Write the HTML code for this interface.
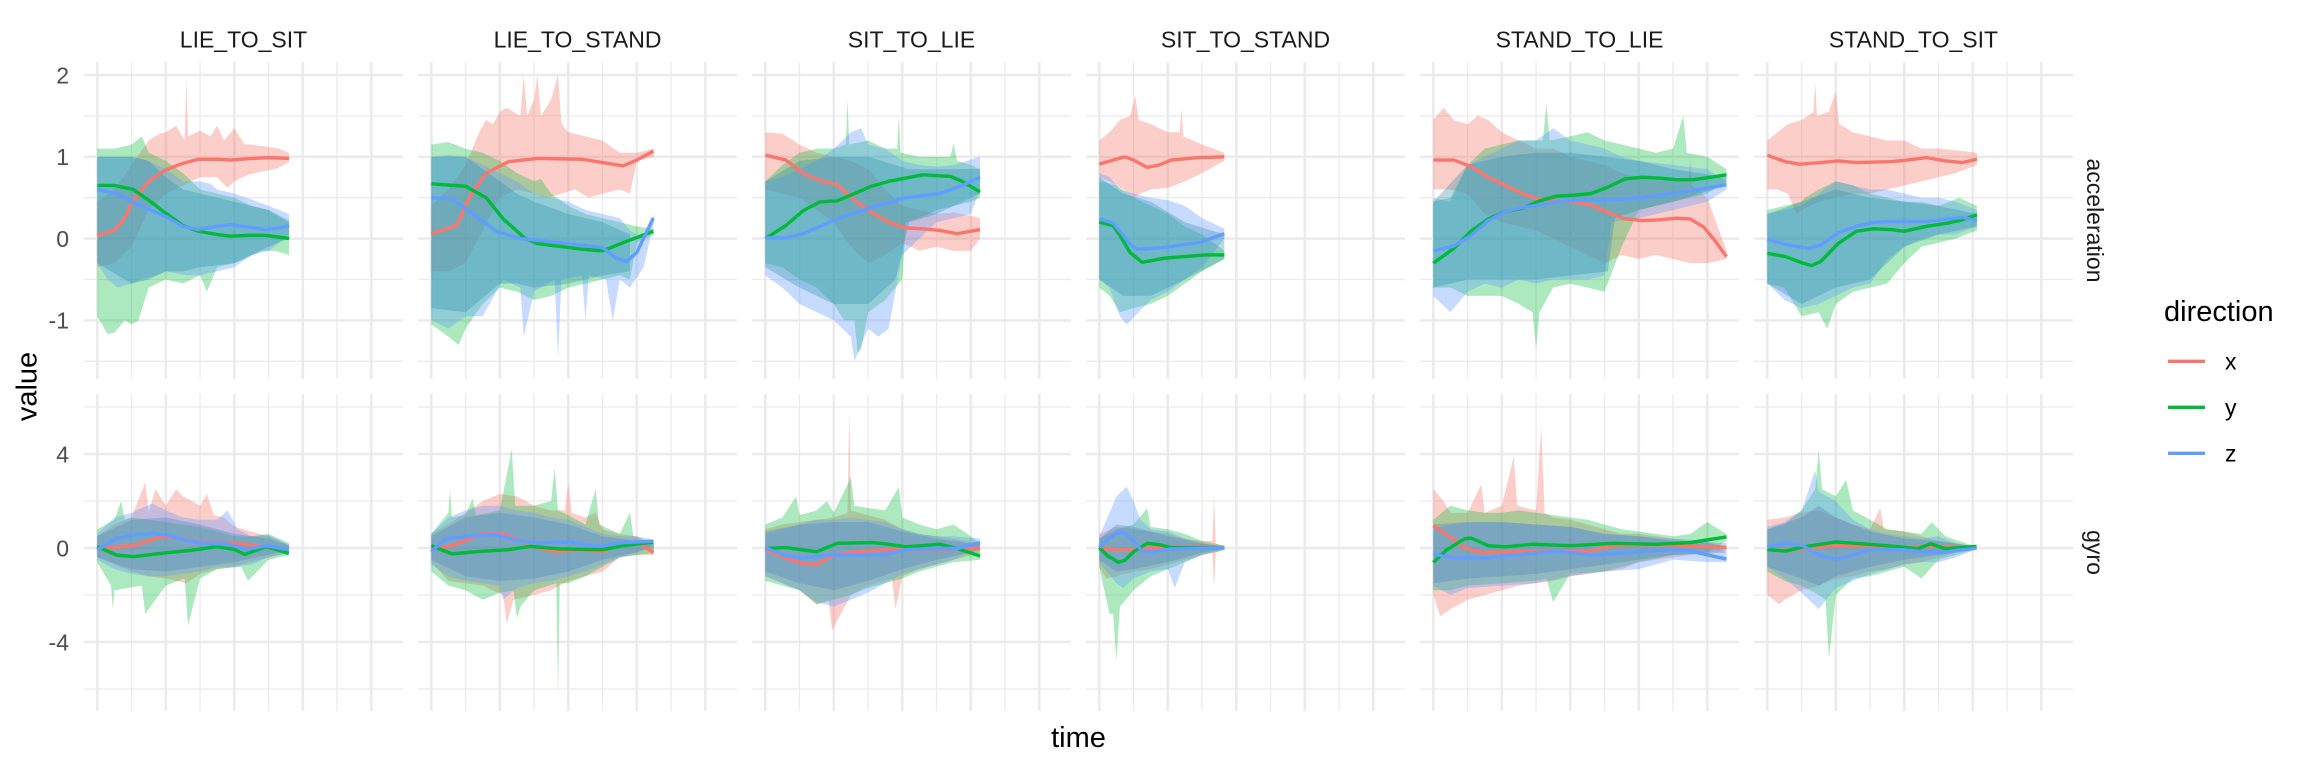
<!DOCTYPE html>
<html><head><meta charset="utf-8"><style>
html,body{margin:0;padding:0;background:#fff;}
svg{display:block;font-family:"Liberation Sans",Arial,sans-serif;}
.mj{stroke:#ebebeb;stroke-width:2.6;fill:none}
.mn{stroke:#ebebeb;stroke-width:1.3;fill:none}
.r{fill:#F8766D;opacity:.36}
.g{fill:#00BA38;opacity:.32}
.b{fill:#619CFF;opacity:.36}
.c{fill:#2f8fae;opacity:.34}
.cg{fill:#4f7fc0;opacity:.32}
.lr,.lg,.lb{fill:none;stroke-width:3.4;stroke-linejoin:round;stroke-linecap:butt;vector-effect:non-scaling-stroke}
.lr{stroke:#F8766D}.lg{stroke:#00BA38}.lb{stroke:#619CFF}
.tk{font-size:23px;fill:#4d4d4d;text-anchor:end}
.st{font-size:23px;fill:#1a1a1a;text-anchor:middle}
</style></head><body>
<svg width="2304" height="768" viewBox="0 0 2304 768" xmlns="http://www.w3.org/2000/svg">
<rect width="2304" height="768" fill="#fff"/>
<defs>
<g id="grid">
<path class="mn" d="M84 115.9H403M84 197.7H403M84 279.5H403M84 361.3H403M131.55 62V379M200.05 62V379M268.55 62V379M337.05 62V379"/>
<path class="mj" d="M84 75H403M84 156.8H403M84 238.6H403M84 320.4H403M97.3 62V379M165.8 62V379M234.3 62V379M302.8 62V379M371.3 62V379"/>
<path class="mn" d="M84 407H403M84 501H403M84 595H403M84 689H403M131.55 394V711M200.05 394V711M268.55 394V711M337.05 394V711"/>
<path class="mj" d="M84 454H403M84 548H403M84 642H403M97.3 394V711M165.8 394V711M234.3 394V711M302.8 394V711M371.3 394V711"/>
</g>
</defs>
<use href="#grid"/>
<use href="#grid" x="334"/>
<use href="#grid" x="668"/>
<use href="#grid" x="1002"/>
<use href="#grid" x="1336"/>
<use href="#grid" x="1670"/>

<!-- ACC P1 -->
<g transform="matrix(34.25 0 0 -81.8 97.3 238.6)">
<polygon class="r" points="0,0.45 0.5,0.6 1,0.9 1.5,1.2 1.8,1.28 2,1.3 2.3,1.38 2.55,1.2 2.6,1.95 2.65,1.25 3,1.32 3.3,1.25 3.5,1.38 3.7,1.2 4,1.35 4.3,1.15 4.5,1.15 5,1.12 5.3,1.1 5.6,1.05 5.6,0.93 5.2,0.85 4.8,0.82 4.4,0.78 4,0.7 3.8,0.62 3.5,0.75 3,0.75 2.5,0.65 2,0.55 1.5,0.35 1,-0.1 0.5,-0.3 0,-0.35"/>
<polygon class="g" points="0,1.1 0.5,1.1 1,1.15 1.3,1.25 1.5,1.05 2,0.95 2.5,0.8 3,0.6 3.5,0.55 4,0.5 4.5,0.4 5,0.35 5.6,0.22 5.6,-0.2 5.2,-0.15 4.8,-0.15 4.3,-0.25 4,-0.3 3.5,-0.35 3.2,-0.65 3,-0.45 2.5,-0.55 2,-0.5 1.5,-0.6 1.2,-1.0 1,-1.05 0.8,-1.0 0.5,-1.15 0.3,-1.17 0,-0.95"/>
<polygon class="b" points="0,1.0 0.5,1.0 1,1.0 1.5,0.95 2,0.85 2.5,0.7 3,0.7 3.3,0.67 3.5,0.6 4,0.55 4.5,0.48 5,0.4 5.6,0.3 5.6,0.05 5.3,-0.05 5,-0.15 4.5,-0.2 4,-0.35 3.5,-0.4 3,-0.45 2.6,-0.45 2,-0.4 1.7,-0.45 1.3,-0.5 1,-0.55 0.6,-0.6 0.3,-0.5 0,-0.3"/>
<polygon class="c" points="0,1.0 1,1.0 1.5,0.95 2,0.75 2.5,0.6 3,0.55 4,0.45 5,0.35 5.6,0.2 5.6,0 5,-0.1 4,-0.3 3,-0.35 2.5,-0.4 2,-0.4 1.5,-0.5 1,-0.55 0,-0.3"/>
<polyline class="lr" points="0,0.04 0.5,0.1 0.8,0.25 1.05,0.47 1.5,0.7 2,0.84 2.5,0.92 2.95,0.97 3.5,0.97 3.9,0.96 4.5,0.98 5,0.99 5.6,0.98"/>
<polyline class="lg" points="0,0.65 0.5,0.65 1.05,0.6 1.5,0.47 2,0.31 2.5,0.16 2.95,0.09 3.5,0.05 3.9,0.03 4.4,0.04 4.9,0.04 5.6,0.0"/>
<polyline class="lb" points="0,0.6 0.58,0.55 1,0.45 1.5,0.36 2,0.27 2.5,0.15 2.95,0.11 3.5,0.15 3.9,0.17 4.4,0.14 4.9,0.11 5.3,0.13 5.6,0.16"/>
</g>

<!-- ACC P2 -->
<g transform="matrix(34.25 0 0 -81.8 431.3 238.6)">
<polygon class="r" points="0,0.4 0.5,0.6 1,0.9 1.4,1.3 1.6,1.45 1.8,1.4 2,1.55 2.2,1.6 2.6,1.5 2.7,2.0 2.8,1.5 3.0,1.7 3.1,2.0 3.2,1.5 3.5,1.7 3.7,2.0 3.8,1.4 4,1.3 4.5,1.25 5,1.2 5.5,1.05 6,1.05 6.5,1.1 6.5,1.0 6,0.95 5.8,0.55 5.5,0.6 5,0.55 4.6,0.5 4.2,0.6 3.8,0.55 3.4,0.5 3,0.55 2.5,0.6 2,0.5 1.5,0.1 1,-0.3 0.5,-0.4 0,-0.4"/>
<polygon class="g" points="0,1.15 0.5,1.18 1,1.1 1.5,1.05 2,0.95 2.5,0.8 3,0.7 3.2,0.73 3.5,0.55 4,0.4 4.5,0.3 5,0.25 5.5,0.2 6,0.15 6.5,0.12 6.5,0.05 6,-0.05 5.8,-0.5 5.5,-0.45 5,-0.5 4.5,-0.55 4,-0.6 3.5,-0.7 3,-0.75 2.5,-0.65 2,-0.6 1.5,-0.8 1,-1.1 0.8,-1.3 0.5,-1.2 0,-1.05"/>
<polygon class="b" points="0,1.0 0.5,1.02 1,1.0 1.5,0.9 2,0.8 2.5,0.7 3,0.55 3.5,0.5 4,0.45 4.5,0.35 5,0.3 5.5,0.25 5.8,0.1 6.2,0.0 6.5,0.3 6.5,0.2 6.2,-0.35 5.8,-0.6 5.5,-0.5 5.3,-1.0 5.1,-0.5 4.6,-0.45 4.5,-1.0 4.4,-0.45 3.8,-0.5 3.7,-1.45 3.6,-0.5 3.0,-0.65 2.7,-1.2 2.6,-0.6 2.1,-0.5 1.7,-0.8 1.5,-0.95 1,-0.95 0.5,-1.1 0,-1.0"/>
<polygon class="c" points="0,1.0 1,1.0 2,0.7 2.5,0.55 3,0.45 4,0.3 5,0.2 5.8,0.05 5.8,-0.4 5,-0.45 4,-0.55 3,-0.6 2.5,-0.55 2,-0.55 1,-0.9 0,-0.85"/>
<polyline class="lr" points="0,0.06 0.75,0.16 1.1,0.5 1.6,0.8 2.25,0.94 3.1,0.98 4.4,0.97 5,0.93 5.6,0.89 6,0.96 6.48,1.07"/>
<polyline class="lg" points="0,0.67 1,0.64 1.6,0.5 2.1,0.24 2.75,0.0 3.1,-0.06 4.4,-0.13 5,-0.15 5.6,-0.05 6.48,0.09"/>
<polyline class="lb" points="0,0.5 0.6,0.49 1.25,0.29 1.9,0.09 2.6,-0.0 3.75,-0.05 5,-0.11 5.4,-0.24 5.7,-0.28 6,-0.17 6.48,0.25"/>
</g>

<!-- ACC P3 -->
<g transform="matrix(34.25 0 0 -81.8 765.3 238.6)">
<polygon class="r" points="0,1.3 0.5,1.28 1,1.15 1.5,1.05 2,1.0 2.5,0.95 3,0.85 3.5,0.6 4,0.4 4.5,0.35 5,0.3 5.5,0.32 6,0.28 6.27,0.25 6.27,0.0 6,-0.15 5.5,-0.15 5,-0.1 4.5,-0.15 4,-0.05 3.5,-0.2 3,-0.3 2.5,-0.1 2,0.2 1.5,0.35 1,0.5 0.5,0.55 0,0.6"/>
<polygon class="g" points="0,0.7 0.5,0.9 1,1.05 1.5,1.1 2,1.1 2.35,1.15 2.4,1.7 2.45,1.15 3,1.2 3.5,1.1 3.85,1.1 3.9,1.5 3.95,1.05 4.5,1.0 5,1.0 5.4,1.0 5.5,1.16 5.6,0.95 6,0.9 6.27,0.85 6.27,0.5 6,0.45 5.5,0.4 5,0.35 4.5,0.25 4.1,0.2 4,-0.5 3.5,-0.75 3,-0.9 2.8,-1.35 2.7,-1.4 2.6,-1.0 2.3,-1.0 2,-0.8 1.5,-0.6 1,-0.5 0.5,-0.35 0,-0.3"/>
<polygon class="b" points="0,0.7 0.5,0.75 1,0.85 1.5,0.95 2,1.1 2.5,1.3 2.8,1.35 3,1.15 3.5,1.1 4,0.95 4.5,0.9 5,0.88 5.5,0.9 6.27,1.0 6.27,0.6 6,0.3 5.5,0.25 5,0.2 4.5,0.0 4,-0.2 3.6,-1.1 3.3,-1.2 3,-1.1 2.6,-1.5 2.5,-1.2 2,-1.0 1.5,-0.9 1,-0.8 0.5,-0.6 0,-0.45"/>
<polygon class="c" points="0,0.7 1,0.95 2,1.0 3,1.0 3.8,0.9 4.2,0.85 5,0.85 6.27,0.85 6.27,0.55 5,0.3 4.2,0.2 3.8,-0.5 3,-0.8 2,-0.8 1,-0.6 0,-0.35"/>
<polyline class="lr" points="0,1.02 0.6,0.96 1.1,0.8 1.6,0.71 2.1,0.66 2.6,0.47 3.1,0.32 3.6,0.2 4.1,0.13 4.6,0.12 5.1,0.1 5.6,0.06 6.27,0.11"/>
<polyline class="lg" points="0,0 0.6,0.16 1.1,0.34 1.6,0.45 2.1,0.46 2.6,0.55 3.1,0.64 3.6,0.7 4.1,0.74 4.6,0.78 5.4,0.76 5.75,0.7 6.27,0.57"/>
<polyline class="lb" points="0,0.01 0.6,0.01 1.1,0.06 2.1,0.24 3.1,0.38 4.1,0.5 5.1,0.55 5.75,0.65 6.27,0.75"/>
</g>

<!-- ACC P4 -->
<g transform="matrix(34.25 0 0 -81.8 1099.3 238.6)">
<polygon class="r" points="0,1.2 0.3,1.3 0.6,1.45 0.9,1.5 1.05,1.75 1.15,1.45 1.5,1.4 2,1.3 2.35,1.3 2.4,1.6 2.45,1.25 3,1.15 3.65,1.05 3.65,0.95 3,0.8 2.5,0.7 2,0.62 1.5,0.6 1.2,0.55 1,0.5 0.7,0.6 0.3,0.7 0,0.75"/>
<polygon class="g" points="0,0.7 0.5,0.65 1,0.5 1.5,0.4 2,0.3 2.5,0.15 3,0.05 3.65,-0.15 3.65,-0.25 3,-0.4 2.5,-0.55 2,-0.7 1.5,-0.8 1,-0.85 0.6,-0.9 0.3,-0.7 0,-0.6"/>
<polygon class="b" points="0,0.8 0.3,0.75 0.6,0.6 1,0.55 1.5,0.5 2,0.47 2.5,0.4 3,0.25 3.65,0.12 3.65,0.0 3,-0.35 2.5,-0.5 2,-0.65 1.5,-0.75 0.8,-1.05 0.6,-0.95 0.3,-0.6 0,-0.5"/>
<polygon class="c" points="0,0.75 0.7,0.55 1.5,0.45 2.5,0.2 3.65,0.05 3.65,-0.25 2.5,-0.5 1.5,-0.7 0.7,-0.7 0,-0.5"/>
<polyline class="lr" points="0,0.91 0.4,0.96 0.75,1.0 1.0,0.96 1.4,0.87 1.75,0.9 2.1,0.96 2.9,0.99 3.65,1.0"/>
<polyline class="lg" points="0,0.2 0.4,0.16 0.6,0.04 0.9,-0.17 1.25,-0.29 1.9,-0.24 2.5,-0.22 3.1,-0.2 3.65,-0.2"/>
<polyline class="lb" points="0,0.24 0.4,0.19 0.6,0.09 0.9,-0.07 1.1,-0.13 1.9,-0.11 2.5,-0.07 2.9,-0.05 3.65,0.06"/>
</g>

<!-- ACC P5 -->
<g transform="matrix(34.25 0 0 -81.8 1433.3 238.6)">
<polygon class="r" points="0,1.45 0.3,1.6 0.6,1.45 1,1.4 1.3,1.5 1.6,1.45 2,1.3 2.5,1.2 3,1.1 3.5,1.1 4,1.0 4.5,0.95 5,0.9 5.5,0.8 6,0.75 6.5,0.75 7,0.7 7.45,0.7 7.5,1.0 7.55,0.65 8,0.5 8.56,-0.15 8.56,-0.25 8,-0.3 7.5,-0.3 7,-0.25 6.5,-0.2 6,-0.25 5.5,-0.2 5,-0.3 4.5,-0.2 4,-0.1 3.5,0.0 3,0.1 2,0.2 1.5,0.3 1,0.55 0.5,0.6 0,0.6"/>
<polygon class="g" points="0,0.45 0.5,0.5 1,0.9 1.5,1.1 2,1.15 2.5,1.2 3.2,1.2 3.3,1.65 3.4,1.2 4,1.25 4.5,1.3 5,1.2 5.5,1.15 6,1.1 6.5,1.05 7,1.1 7.3,1.5 7.4,1.05 8,1.0 8.56,0.85 8.56,0.7 8,0.55 7.5,0.5 7,0.45 6.5,0.4 6,0.35 5.5,-0.1 5,-0.65 4.5,-0.6 4,-0.55 3.5,-0.6 3.1,-0.9 3.0,-1.35 2.9,-0.9 2.5,-0.8 2,-0.7 1.5,-0.7 1,-0.7 0.5,-0.6 0,-0.6"/>
<polygon class="b" points="0,0.5 0.5,0.45 1,0.9 1.5,1.0 2,1.1 2.5,1.2 3,1.2 3.5,1.35 4,1.2 4.5,1.15 5,1.1 5.5,1.0 6,0.95 7,0.9 8,0.85 8.56,0.7 8.56,0.6 8,0.45 7,0.35 6,0.25 5.2,0.2 5,-0.45 4.5,-0.5 4,-0.5 3.5,-0.5 3,-0.55 2.5,-0.5 2,-0.6 1.5,-0.55 1,-0.65 0.5,-0.9 0,-0.7"/>
<polygon class="c" points="0,0.45 1,0.9 2,1.0 3,1.05 4,1.05 5,1.0 6,0.95 7,0.85 8.56,0.75 8.56,0.65 7,0.45 6,0.35 5.3,0.25 5.1,-0.4 4,-0.45 3,-0.5 2,-0.5 1,-0.5 0,-0.6"/>
<polyline class="lr" points="0,0.96 0.6,0.96 1.1,0.88 1.6,0.75 2.1,0.65 2.6,0.55 3.1,0.48 3.6,0.46 4.1,0.45 4.6,0.41 5.1,0.32 5.6,0.24 6.1,0.22 6.6,0.23 7.1,0.25 7.5,0.24 7.9,0.14 8.25,-0.04 8.56,-0.22"/>
<polyline class="lg" points="0,-0.3 0.6,-0.12 1.1,0.09 1.6,0.24 2.1,0.33 2.6,0.37 3.1,0.46 3.6,0.52 4.1,0.53 4.6,0.55 5.1,0.63 5.6,0.73 6.1,0.75 6.6,0.74 7.1,0.72 7.6,0.72 8.1,0.75 8.56,0.78"/>
<polyline class="lb" points="0,-0.15 0.6,-0.09 1.1,0.04 1.6,0.22 2.1,0.33 2.6,0.38 3.1,0.41 3.6,0.45 4.1,0.47 5.1,0.47 6.1,0.5 7.1,0.56 7.9,0.61 8.56,0.66"/>
</g>

<!-- ACC P6 -->
<g transform="matrix(34.25 0 0 -81.8 1767.3 238.6)">
<polygon class="r" points="0,1.2 0.3,1.3 0.6,1.4 1,1.45 1.35,1.55 1.4,1.9 1.45,1.5 1.8,1.55 2.0,1.8 2.1,1.4 2.5,1.3 3,1.25 3.5,1.2 4,1.2 4.5,1.1 5,1.1 5.5,1.08 6.12,1.05 6.12,0.9 5.5,0.8 5,0.75 4.5,0.7 4,0.65 3.5,0.6 3,0.55 2.5,0.55 2,0.5 1.5,0.45 1.0,0.35 0.85,0.3 0.6,0.55 0.3,0.6 0,0.6"/>
<polygon class="g" points="0,0.35 0.5,0.4 1,0.45 1.1,0.5 1.5,0.6 2,0.7 2.5,0.65 3,0.55 3.5,0.5 4,0.45 4.5,0.45 5,0.4 5.6,0.5 6.12,0.4 6.12,0.1 5.5,0.0 5,-0.05 4.5,-0.1 4,-0.3 3.5,-0.55 3,-0.6 2.5,-0.65 2,-0.8 1.75,-1.1 1.5,-0.9 1,-0.95 0.5,-0.6 0,-0.55"/>
<polygon class="b" points="0,0.3 0.5,0.35 1,0.4 1.5,0.55 2,0.7 2.5,0.65 3,0.6 3.5,0.6 4,0.55 4.5,0.5 5,0.5 5.5,0.45 6.12,0.35 6.12,0.15 5.5,0.05 5,0.05 4.5,0.0 4,-0.1 3.5,-0.25 3,-0.55 2.5,-0.6 2,-0.7 1.5,-0.8 1,-0.85 0.5,-0.75 0,-0.55"/>
<polygon class="c" points="0,0.3 1,0.45 2,0.6 3,0.5 4,0.45 5,0.4 6.12,0.3 6.12,0.15 5,0.05 4,-0.1 3,-0.5 2,-0.6 1,-0.8 0,-0.55"/>
<polyline class="lr" points="0,1.02 0.53,0.94 0.94,0.91 1.56,0.93 2.07,0.95 2.6,0.93 3.6,0.94 4.1,0.96 4.65,0.99 5.2,0.95 5.7,0.93 6.12,0.97"/>
<polyline class="lg" points="0,-0.18 0.53,-0.22 1.04,-0.3 1.3,-0.33 1.56,-0.28 2.07,-0.06 2.6,0.09 3.1,0.12 3.6,0.11 4.0,0.09 4.65,0.15 5.27,0.19 5.7,0.23 6.12,0.29"/>
<polyline class="lb" points="0,-0.01 0.53,-0.07 1.2,-0.12 1.56,-0.08 2.07,0.07 2.6,0.15 3.1,0.2 3.6,0.21 4.65,0.21 5.27,0.24 5.7,0.26 6.12,0.22"/>
</g>

<!-- GYRO P1 -->
<g transform="matrix(34.25 0 0 -23.5 97.3 548)">
<polygon class="r" points="0,0.5 0.5,1.0 1,1.3 1.4,2.8 1.5,1.5 1.7,2.5 2,1.8 2.3,2.5 2.5,2.2 3,1.8 3.2,2.3 3.4,1.4 3.7,1.3 4,0.9 4.5,0.7 5,0.5 5.6,0.1 5.6,-0.2 5,-0.4 4.5,-0.6 4,-0.8 3.5,-0.9 3,-1.1 2.6,-1.5 2,-1.3 1.5,-1.2 1,-1.0 0.5,-0.7 0,-0.4"/>
<polygon class="g" points="0,0.8 0.5,1.2 0.7,2.0 0.8,1.2 1,1.3 1.5,1.2 2,1.1 2.5,1.0 3,0.9 3.5,0.7 4,0.5 4.5,0.5 5,0.6 5.6,0.2 5.6,-0.3 5,-0.5 4.4,-1.4 4.2,-0.8 3.5,-0.9 3,-1.3 2.65,-3.3 2.55,-1.3 2,-1.6 1.4,-2.8 1.3,-1.6 0.5,-1.8 0.45,-2.6 0.4,-1.6 0,-0.6"/>
<polygon class="b" points="0,0.6 0.5,1.3 1,1.5 1.6,1.9 2,1.6 2.5,1.3 3,1.2 3.5,1.2 3.8,1.6 4.1,0.8 4.5,0.5 5,0.55 5.6,0.15 5.6,-0.2 5,-0.4 4.5,-0.7 4,-0.8 3.5,-0.8 3,-1.0 2.5,-1.1 2,-1.2 1.5,-1.2 1,-1.1 0.5,-0.9 0,-0.5"/>
<polygon class="cg" points="0,0.5 1,1.2 2,1.3 3,1.0 4,0.6 5,0.4 5.6,0.1 5.6,-0.1 5,-0.3 4,-0.6 3,-0.8 2,-1.0 1,-0.9 0,-0.4"/>
<polyline class="lr" points="0,0 0.5,0.03 1.05,0.1 1.5,0.3 1.83,0.48 2.5,0.4 3,0.23 3.97,0.2 4.5,0.12 4.94,0.06 5.59,-0.08"/>
<polyline class="lg" points="0,0.06 0.56,-0.3 1.05,-0.37 2.02,-0.2 2.7,-0.11 3.5,0.06 4,-0.06 4.3,-0.27 4.94,0.06 5.59,-0.23"/>
<polyline class="lb" points="0,-0.08 0.56,0.41 1.05,0.55 1.63,0.62 2.02,0.55 2.5,0.37 3,0.2 3.78,0.17 4.36,-0.06 4.94,0.1 5.59,-0.08"/>
</g>

<!-- GYRO P2 -->
<g transform="matrix(34.25 0 0 -23.5 431.3 548)">
<polygon class="r" points="0,0.6 0.5,1.0 1,1.5 1.5,2.0 2,2.3 2.5,2.2 3,1.8 3.5,1.6 3.9,1.6 4.0,2.8 4.1,1.5 4.5,1.3 4.8,1.5 5,0.8 5.5,0.6 6,0.5 6.5,0.1 6.5,-0.3 6,-0.3 5.5,-0.4 5,-1.0 4.5,-1.2 4,-1.4 3.5,-1.8 3,-2.0 2.4,-2.2 2.2,-3.2 2.1,-2.0 1.5,-1.6 1,-1.5 0.5,-1.4 0,-0.6"/>
<polygon class="g" points="0,0.6 0.5,1.5 0.55,2.5 0.6,1.3 1,1.4 1.2,2.1 1.3,1.4 2,1.6 2.35,4.2 2.45,1.8 3,1.8 3.5,2.0 3.6,3.4 3.7,1.6 4,1.4 4.5,1.0 4.8,2.5 4.9,1.0 5.5,0.6 5.8,1.5 5.9,0.5 6.5,0.2 6.5,-0.2 6,-0.3 5.5,-0.4 5,-0.8 4.5,-1.2 4,-1.5 3.75,-1.5 3.7,-6.3 3.65,-1.5 3,-1.8 2.6,-2.5 2.5,-3.0 2.4,-1.8 2,-1.9 1.5,-2.2 1.0,-1.8 0.5,-1.6 0,-1.0"/>
<polygon class="b" points="0,0.6 0.5,1.3 1,1.6 1.5,1.8 2,1.8 2.5,1.6 3,1.5 3.5,1.3 4,1.2 4.5,0.9 5,0.6 5.5,0.5 6,0.5 6.5,0.35 6.5,0.15 6,-0.2 5.5,-0.4 5,-0.7 4.5,-1.0 4,-1.2 3.5,-1.4 3,-1.5 2.5,-1.7 2.1,-2.2 2,-1.6 1.5,-1.5 1,-1.4 0.5,-1.2 0,-0.7"/>
<polygon class="cg" points="0,0.5 1,1.3 2,1.5 3,1.3 4,1.0 5,0.5 6.5,0.2 6.5,0 5,-0.5 4,-1.0 3,-1.3 2,-1.4 1,-1.2 0,-0.5"/>
<polyline class="lr" points="0,-0.07 0.6,0.1 1.5,0.6 2.1,0.6 3.1,0.02 3.6,-0.16 4.4,-0.07 5,-0.16 5.6,0.2 6.1,0.2 6.48,-0.2"/>
<polyline class="lg" points="0,0.1 0.6,-0.25 1.25,-0.16 2.25,-0.07 2.9,0.07 3.75,-0.04 5,-0.07 5.6,0.1 6.48,0.25"/>
<polyline class="lb" points="0,-0.16 0.4,0.38 1.0,0.5 1.9,0.56 2.6,0.29 3.1,0.2 4,0.25 4.9,0.07 5.6,0.23 6.48,0.29"/>
</g>

<!-- GYRO P3 -->
<g transform="matrix(34.25 0 0 -23.5 765.3 548)">
<polygon class="r" points="0,0.8 0.5,1.0 1,1.1 1.5,1.2 2,1.3 2.4,1.5 2.45,5.9 2.5,1.6 3,1.4 3.5,1.2 4,0.8 4.5,0.6 5,0.5 6.27,0.2 6.27,-0.2 5.5,-0.5 5,-0.7 4.5,-0.9 4,-1.2 3.8,-2.6 3.7,-1.3 3,-1.6 2.5,-2.0 1.95,-3.5 1.85,-2.2 1.5,-2.4 1,-1.8 0.5,-1.5 0,-1.2"/>
<polygon class="g" points="0,1.0 0.5,1.3 0.9,2.2 1,1.4 1.5,1.6 1.8,2.0 2,1.5 2.5,3.0 2.6,1.8 3,1.7 3.5,1.6 3.9,2.6 4,1.3 4.5,1.0 5,0.8 5.5,1.0 6,0.5 6.27,0.2 6.27,-0.5 5.5,-0.6 5,-0.8 4.5,-1.0 4,-1.3 3.5,-1.5 3,-1.7 2.5,-2.0 2,-2.2 1.5,-2.4 1,-1.8 0.5,-1.6 0,-1.4"/>
<polygon class="b" points="0,0.6 0.5,0.8 1,1.0 1.5,1.2 2,1.2 2.5,1.3 3,1.2 3.5,1.1 4,0.8 4.5,0.6 5,0.5 5.5,0.5 6.27,0.4 6.27,0.0 5.5,-0.5 5,-0.7 4.5,-0.9 4,-1.1 3.5,-1.5 3,-1.9 2.5,-2.2 2,-2.5 1.5,-2.3 1,-1.8 0.5,-1.5 0,-1.2"/>
<polygon class="cg" points="0,0.7 1,1.0 2,1.1 3,1.1 4,0.7 5,0.4 6.27,0.15 6.27,-0.1 5,-0.5 4,-0.9 3,-1.4 2,-1.8 1,-1.5 0,-1.0"/>
<polyline class="lr" points="0,-0.07 0.6,-0.43 1.1,-0.66 1.5,-0.7 2,-0.3 2.6,-0.16 3.6,-0.07 4.6,-0.07 6.27,-0.02"/>
<polyline class="lg" points="0,-0.02 0.6,0.02 1.5,-0.16 2.1,0.2 3.1,0.23 3.6,0.16 4.1,0.05 5.1,0.16 5.6,-0.02 6.27,-0.34"/>
<polyline class="lb" points="0,0.02 0.6,-0.34 1.1,-0.43 1.9,-0.3 3.1,-0.3 3.6,-0.25 4.1,-0.07 5.1,-0.02 5.6,-0.02 6.27,0.23"/>
</g>

<!-- GYRO P4 -->
<g transform="matrix(34.25 0 0 -23.5 1099.3 548)">
<polygon class="r" points="0,0.6 0.5,0.9 1,0.8 1.5,0.7 2,0.6 2.5,0.4 3,0.3 3.3,0.3 3.35,2.2 3.4,0.2 3.65,0.05 3.65,-0.05 3.4,-0.2 3.35,-1.7 3.3,-0.2 3,-0.3 2.5,-0.5 2,-0.7 1.5,-0.9 1,-1.0 0.5,-1.2 0.2,-1.3 0,-0.8"/>
<polygon class="g" points="0,0.4 0.5,0.8 1,1.0 1.4,1.7 1.5,0.9 2,0.8 2.5,0.6 3,0.3 3.65,0.1 3.65,-0.1 3,-0.3 2.5,-0.6 2,-0.9 1.5,-1.2 1,-1.8 0.6,-2.5 0.5,-4.8 0.4,-2.8 0.3,-2.8 0.1,-1.5 0,-0.8"/>
<polygon class="b" points="0,0.5 0.3,1.5 0.5,2.2 0.8,2.6 1.0,2.0 1.2,1.2 1.5,0.8 2,0.7 2.5,0.4 3,0.2 3.65,0.05 3.65,-0.05 3,-0.3 2.5,-0.6 2.2,-1.7 2.0,-0.9 1.5,-1.0 1,-1.3 0.7,-1.7 0.5,-1.5 0,-0.6"/>
<polygon class="cg" points="0,0.4 0.5,1.0 1,0.9 2,0.5 3,0.2 3.65,0.05 3.65,-0.05 3,-0.2 2,-0.6 1,-0.9 0.5,-1.0 0,-0.5"/>
<polyline class="lr" points="0,0 0.5,-0.07 1,-0.07 1.5,0 2,0.04 3,0.05 3.65,0.02"/>
<polyline class="lg" points="0,0.02 0.25,-0.34 0.56,-0.61 0.75,-0.52 1.0,-0.16 1.4,0.2 1.75,0.14 2.1,0.02 3.65,0.02"/>
<polyline class="lb" points="0,0.02 0.25,0.38 0.56,0.68 0.75,0.65 1.0,0.29 1.25,-0.13 1.6,-0.16 2.1,-0.04 3.65,0.02"/>
</g>

<!-- GYRO P5 -->
<g transform="matrix(34.25 0 0 -23.5 1433.3 548)">
<polygon class="r" points="0,2.5 0.3,2.0 0.5,1.5 1,1.5 1.4,2.7 1.5,1.5 2,1.8 2.35,3.9 2.45,1.8 3,1.6 3.15,5.2 3.25,1.5 3.5,1.3 4,1.2 4.5,1.0 5,0.8 5.5,0.6 6,0.6 6.5,0.5 7,0.4 8,0.2 8.56,0.1 8.56,-0.1 8,-0.2 7,-0.4 6,-0.6 5.5,-0.9 5,-1.0 4.5,-1.1 4,-1.2 3.5,-1.4 3,-1.5 2.5,-1.6 2,-1.8 1.5,-2.0 1,-2.2 0.5,-2.6 0.2,-2.9 0,-2.0"/>
<polygon class="g" points="0,1.2 0.5,1.8 1,1.6 1.5,1.5 2,1.5 2.5,1.6 3,1.5 3.5,1.4 4,1.3 4.5,1.2 5,1.0 5.5,0.8 6,0.7 6.5,0.6 7,0.5 7.5,0.6 8,1.1 8.56,0.6 8.56,0.3 8,-0.2 7,-0.3 6,-0.6 5.5,-0.8 5,-1.0 4,-1.1 3.5,-2.3 3.3,-1.3 3,-1.4 2,-1.5 1,-1.6 0.5,-1.8 0,-1.8"/>
<polygon class="b" points="0,0.8 0.5,1.0 1,1.1 2,1.1 3,1.0 4,0.9 5,0.6 6,0.5 7,0.4 8,0.3 8.56,-0.2 8.56,-0.6 8,-0.6 7,-0.5 6,-0.9 5,-1.0 4,-1.2 3,-1.5 2,-1.6 1,-1.7 0.5,-2.0 0,-1.6"/>
<polygon class="cg" points="0,1.0 1,1.1 2,1.1 3,1.0 4,0.9 5,0.6 6,0.5 7,0.3 8.56,0.2 8.56,-0.2 7,-0.3 6,-0.5 5,-0.7 4,-0.9 3,-1.1 2,-1.2 1,-1.3 0,-1.5"/>
<polyline class="lr" points="0,0.95 0.4,0.56 0.9,0.02 1.4,-0.2 2.1,-0.16 3.4,-0.13 4.6,-0.13 5.25,0.1 5.9,0.14 7.1,0.1 8.56,0.02"/>
<polyline class="lg" points="0,-0.61 0.4,-0.07 0.9,0.38 1.1,0.43 1.6,0.1 2.1,0.05 2.9,0.16 4,0.1 5.25,0.2 6.5,0.16 7.5,0.23 8.56,0.47"/>
<polyline class="lb" points="0,-0.25 0.6,-0.43 1.5,-0.43 2.75,-0.25 3.6,-0.13 4.6,-0.3 5.6,-0.2 6.9,-0.07 7.5,-0.13 8.56,-0.47"/>
</g>

<!-- GYRO P6 -->
<g transform="matrix(34.25 0 0 -23.5 1767.3 548)">
<polygon class="r" points="0,1.2 0.5,1.3 1,1.5 1.5,1.6 2,1.3 2.5,1.0 3,0.8 3.3,1.7 3.4,0.8 4,0.7 4.5,0.5 5,0.3 5.5,0.2 6.11,0.05 6.11,-0.05 5.5,-0.2 5,-0.4 4.5,-0.6 4,-0.7 3.5,-0.9 3,-1.0 2.5,-1.2 2,-1.3 1.5,-1.6 1,-1.8 0.5,-2.2 0.35,-2.4 0,-2.0"/>
<polygon class="g" points="0,0.8 0.5,1.0 1,1.6 1.4,2.5 1.5,4.2 1.6,2.5 2,2.2 2.3,2.9 2.5,1.6 3,1.2 3.5,0.8 4,0.7 4.5,0.6 4.8,1.1 5.2,0.5 5.6,0.3 6.11,0.05 6.11,-0.05 5.5,-0.3 5,-0.5 4.5,-1.3 4,-0.8 3.5,-1.0 3,-1.2 2.5,-1.3 2,-2.0 1.8,-4.7 1.7,-2.2 1.5,-2.0 1,-1.6 0.5,-1.4 0,-1.0"/>
<polygon class="b" points="0,0.9 0.5,1.1 1,1.6 1.4,3.3 1.5,2.4 2,2.0 2.5,1.2 3,0.8 3.5,0.6 4,0.5 4.5,0.4 5,0.5 5.5,0.2 6.11,0.05 6.11,-0.05 5.5,-0.4 5,-0.6 4.5,-0.6 4,-0.7 3.5,-0.9 3,-1.1 2.5,-1.4 2,-1.7 1.5,-2.6 1,-1.9 0.5,-1.3 0,-0.8"/>
<polygon class="cg" points="0,0.8 1,1.3 1.5,1.8 2,1.3 3,0.7 4,0.4 5,0.3 6.11,0.05 6.11,-0.05 5,-0.3 4,-0.5 3,-0.8 2,-1.2 1.5,-1.6 1,-1.3 0,-0.8"/>
<polyline class="lr" points="0,-0.07 0.54,-0.1 1.3,0.01 2,0.09 3,0.09 3.95,0.01 4.8,0.07 6.11,0"/>
<polyline class="lg" points="0,-0.07 0.54,-0.13 1.03,0.04 2,0.26 2.8,0.18 3.95,0.04 4.4,-0.03 4.77,0.18 5.2,-0.03 6.11,0.07"/>
<polyline class="lb" points="0,0.04 0.54,0.21 1.03,0.11 1.5,-0.31 2,-0.48 2.5,-0.31 3,-0.06 3.95,-0.07 4.6,-0.17 5.2,-0.17 6.11,0"/>
</g>

<!-- strip labels -->
<text class="st" x="243.5" y="47.3">LIE_TO_SIT</text>
<text class="st" x="577.5" y="47.3">LIE_TO_STAND</text>
<text class="st" x="911.5" y="47.3">SIT_TO_LIE</text>
<text class="st" x="1245.5" y="47.3">SIT_TO_STAND</text>
<text class="st" x="1579.5" y="47.3">STAND_TO_LIE</text>
<text class="st" x="1913.5" y="47.3">STAND_TO_SIT</text>
<text class="st" transform="translate(2087,220.5) rotate(90)">acceleration</text>
<text class="st" transform="translate(2087,552.5) rotate(90)">gyro</text>

<!-- y tick labels -->
<text class="tk" x="69" y="83.3">2</text>
<text class="tk" x="69" y="165.1">1</text>
<text class="tk" x="69" y="246.9">0</text>
<text class="tk" x="69" y="328.7">-1</text>
<text class="tk" x="69" y="462.3">4</text>
<text class="tk" x="69" y="556.3">0</text>
<text class="tk" x="69" y="650.3">-4</text>

<!-- axis titles -->
<text x="1078.5" y="747" font-size="29" text-anchor="middle" fill="#000">time</text>
<text transform="translate(36.5,386.5) rotate(-90)" font-size="29" text-anchor="middle" fill="#000">value</text>

<!-- legend -->
<text x="2164" y="321" font-size="29" fill="#000">direction</text>
<line x1="2168" y1="361.3" x2="2205" y2="361.3" stroke="#F8766D" stroke-width="3.4"/>
<line x1="2168" y1="407.3" x2="2205" y2="407.3" stroke="#00BA38" stroke-width="3.4"/>
<line x1="2168" y1="453.3" x2="2205" y2="453.3" stroke="#619CFF" stroke-width="3.4"/>
<text x="2225" y="369.5" font-size="23" fill="#000">x</text>
<text x="2225" y="415.5" font-size="23" fill="#000">y</text>
<text x="2225" y="461.5" font-size="23" fill="#000">z</text>
</svg>
</body></html>
